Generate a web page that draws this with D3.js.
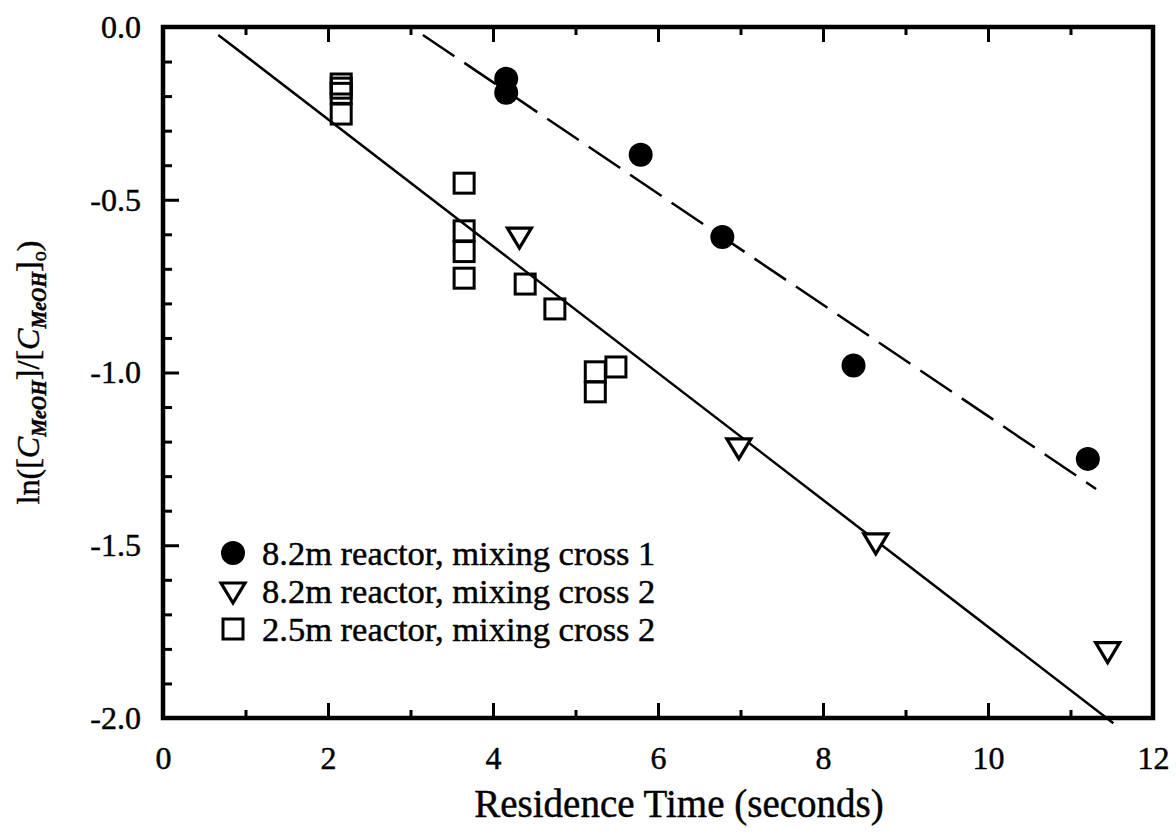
<!DOCTYPE html>
<html>
<head>
<meta charset="utf-8">
<script src="https://cdn.jsdelivr.net/npm/d3@7"></script>
<style>
  html, body { margin: 0; padding: 0; background: #fff; }
  svg { display: block; }
  text { font-family: "Liberation Serif", "Times New Roman", serif; fill: #000; stroke: #000; stroke-width: 0.45px; }
</style>
</head>
<body>
<svg id="chart" width="1176" height="837"></svg>
<script>
// Residence time (s) and ln(C/C0) for each reactor configuration
const cross1Time  = [4.16, 4.16, 5.79, 6.78, 8.37, 11.21];
const cross1Value = [-0.150, -0.190, -0.370, -0.608, -0.980, -1.250];

const cross2Time  = [4.32, 6.98, 8.64, 11.45];
const cross2Value = [-0.605, -1.215, -1.490, -1.805];

const shortTime  = [2.16, 2.16, 2.16, 2.16, 3.65, 3.65, 3.65, 3.65, 4.39, 4.75, 5.24, 5.24, 5.49];
const shortValue = [-0.165, -0.177, -0.192, -0.252, -0.452, -0.590, -0.650, -0.727, -0.744, -0.816, -0.998, -1.056, -0.984];

// Fitted lines (end points)
const fitSolidX  = [0.67, 11.52];
const fitSolidY  = [-0.023, -2.015];
const fitDashedX = [3.15, 11.31];
const fitDashedY = [-0.023, -1.337];

// Axis ticks
const xMajorTicks = [0, 2, 4, 6, 8, 10, 12];
const xMinorTicks = [1, 3, 5, 7, 9, 11];
const yMajorTicks = [0, -0.5, -1.0, -1.5, -2.0];
const yMinorTicks = [-0.1, -0.2, -0.3, -0.4, -0.6, -0.7, -0.8, -0.9, -1.1, -1.2, -1.3, -1.4, -1.6, -1.7, -1.8, -1.9];

const legendLabels = [
  "8.2m reactor, mixing cross 1",
  "8.2m reactor, mixing cross 2",
  "2.5m reactor, mixing cross 2"
];

const svg = d3.select("#chart");
const plotLeft = 163, plotRight = 1153, plotTop = 27, plotBottom = 718;

const x = d3.scaleLinear().domain([0, 12]).range([plotLeft, plotRight]);
const y = d3.scaleLinear().domain([-2, 0]).range([plotBottom, plotTop]);

// Axes
const tickFont = 32;

svg.append("g").attr("transform", `translate(0,${plotBottom})`)
  .call(d3.axisBottom(x).tickValues(xMajorTicks).tickSize(-15).tickPadding(28)
    .tickFormat(d => String(d)));
svg.append("g").attr("transform", `translate(0,${plotBottom})`)
  .call(d3.axisBottom(x).tickValues(xMinorTicks).tickSize(-8).tickFormat(""));
svg.append("g").attr("transform", `translate(0,${plotTop})`)
  .call(d3.axisTop(x).tickValues(xMajorTicks.slice(1, -1)).tickSize(-15).tickFormat(""));
svg.append("g").attr("transform", `translate(0,${plotTop})`)
  .call(d3.axisTop(x).tickValues(xMinorTicks).tickSize(-8).tickFormat(""));

svg.append("g").attr("transform", `translate(${plotLeft},0)`)
  .call(d3.axisLeft(y).tickValues(yMajorTicks).tickSize(-16).tickPadding(22)
    .tickFormat(d => d.toFixed(1)));
svg.append("g").attr("transform", `translate(${plotLeft},0)`)
  .call(d3.axisLeft(y).tickValues(yMinorTicks).tickSize(-9).tickFormat(""));

svg.selectAll(".domain").remove();
svg.selectAll(".tick line").attr("stroke", "#000").attr("stroke-width", 3);
svg.selectAll(".tick text").attr("font-size", tickFont)
  .style("font-family", "'Liberation Serif', 'Times New Roman', serif");

// Plot frame
svg.append("rect")
  .attr("x", plotLeft).attr("y", plotTop)
  .attr("width", plotRight - plotLeft).attr("height", plotBottom - plotTop)
  .attr("fill", "none").attr("stroke", "#000").attr("stroke-width", 4.5);

// Fit lines
const line = d3.line().x(d => x(d[0])).y(d => y(d[1]));
svg.append("path")
  .datum(d3.zip(fitSolidX, fitSolidY))
  .attr("d", line).attr("fill", "none").attr("stroke", "#000").attr("stroke-width", 2.5);
svg.append("path")
  .datum(d3.zip(fitDashedX, fitDashedY))
  .attr("d", line).attr("fill", "none").attr("stroke", "#000").attr("stroke-width", 2.5)
  .attr("stroke-dasharray", "38 12");

// Markers
const squareSide = 20;
const triPath = "M-12,-8 L12,-8 L0,12 Z";

svg.append("g").selectAll("rect")
  .data(d3.zip(shortTime, shortValue))
  .join("rect")
  .attr("x", d => x(d[0]) - squareSide / 2)
  .attr("y", d => y(d[1]) - squareSide / 2)
  .attr("width", squareSide).attr("height", squareSide)
  .attr("fill", "none").attr("stroke", "#000").attr("stroke-width", 3);

svg.append("g").selectAll("path")
  .data(d3.zip(cross2Time, cross2Value))
  .join("path")
  .attr("transform", d => `translate(${x(d[0])},${y(d[1])})`)
  .attr("d", triPath)
  .attr("fill", "#fff").attr("stroke", "#000").attr("stroke-width", 3.2)
  .attr("stroke-linejoin", "miter");

svg.append("g").selectAll("circle")
  .data(d3.zip(cross1Time, cross1Value))
  .join("circle")
  .attr("cx", d => x(d[0])).attr("cy", d => y(d[1]))
  .attr("r", 12).attr("fill", "#000");

// Legend
const legendX = 233, legendY0 = 553, legendStep = 38;
const lg = svg.append("g");
lg.append("circle").attr("cx", legendX).attr("cy", legendY0).attr("r", 12).attr("fill", "#000");
lg.append("path").attr("transform", `translate(${legendX},${legendY0 + legendStep})`)
  .attr("d", triPath).attr("fill", "#fff").attr("stroke", "#000").attr("stroke-width", 3.2);
lg.append("rect")
  .attr("x", legendX - squareSide / 2).attr("y", legendY0 + 2 * legendStep - squareSide / 2)
  .attr("width", squareSide).attr("height", squareSide)
  .attr("fill", "none").attr("stroke", "#000").attr("stroke-width", 3);
lg.selectAll("text")
  .data(legendLabels)
  .join("text")
  .attr("x", 262)
  .attr("y", (d, i) => legendY0 + i * legendStep)
  .attr("dy", "0.35em")
  .attr("font-size", 34.5)
  .text(d => d);

// Axis titles
svg.append("text")
  .attr("x", 679).attr("y", 817)
  .attr("text-anchor", "middle")
  .attr("font-size", 39)
  .text("Residence Time (seconds)");

const yt = svg.append("text")
  .attr("transform", `translate(39,${(plotTop + plotBottom) / 2}) rotate(-90)`)
  .attr("text-anchor", "middle")
  .attr("font-size", 32);
yt.append("tspan").text("ln([");
yt.append("tspan").attr("font-style", "italic").text("C");
yt.append("tspan").attr("font-style", "italic").attr("font-weight", "bold")
  .attr("font-size", 20).attr("dy", 7).text("MeOH");
yt.append("tspan").attr("dy", -7).text("]/[");
yt.append("tspan").attr("font-style", "italic").text("C");
yt.append("tspan").attr("font-style", "italic").attr("font-weight", "bold")
  .attr("font-size", 20).attr("dy", 7).text("MeOH");
yt.append("tspan").attr("dy", -7).text("]");
yt.append("tspan").attr("font-size", 20).attr("dy", 7).text("o");
yt.append("tspan").attr("dy", -7).text(")");
</script>
</body>
</html>
